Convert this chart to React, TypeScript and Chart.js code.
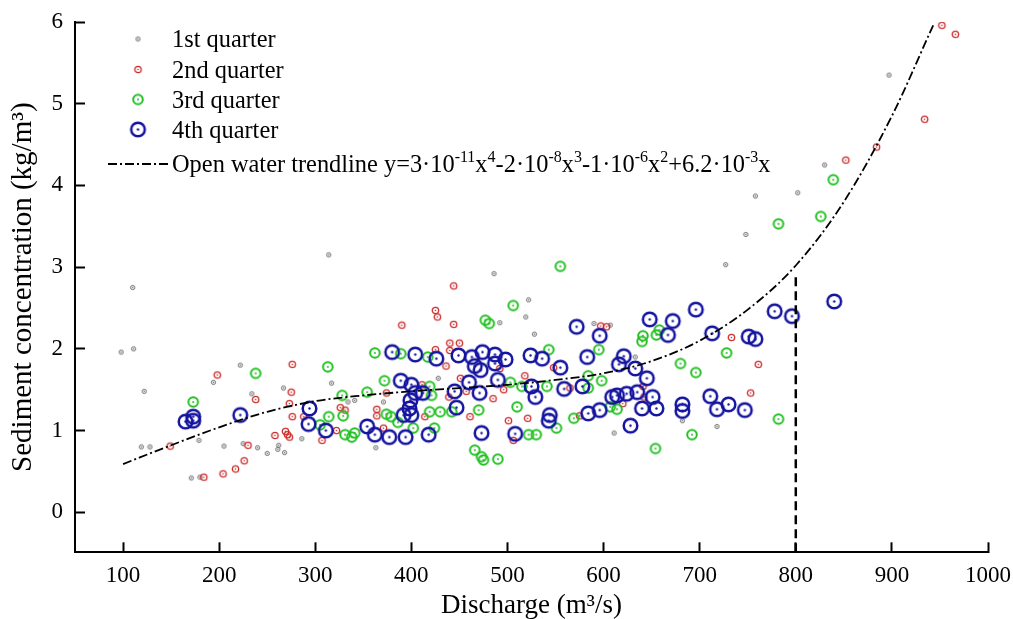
import React, { useEffect, useRef } from "react";
import { Chart, registerables } from "chart.js";

Chart.register(...registerables);

// ---------------- data ----------------
const X_TICKS = [100, 200, 300, 400, 500, 600, 700, 800, 900, 1000];
const Y_TICKS = [0, 1, 2, 3, 4, 5, 6];
const X_MIN = 50;
const X_MAX = 1000;
const Y_MIN = -0.49;
const Y_MAX = 6;

const SERIES_LABELS = ["1st quarter", "2nd quarter", "3rd quarter", "4th quarter"];

const Q1_X = [98, 111, 110, 122, 119, 128, 194, 222, 234, 179, 171, 180, 205, 225, 240, 250, 262, 261, 268, 267, 286, 317, 334, 341, 363, 314, 486, 522, 519, 492, 528, 590, 607, 428, 371, 611, 633, 727, 682, 718, 897, 830, 802, 758, 748];
const Q1_Y = [1.96, 2.0, 2.75, 1.48, 0.8, 0.8, 1.59, 1.8, 1.45, 0.88, 0.42, 0.43, 0.81, 0.84, 0.79, 0.72, 0.82, 0.77, 0.73, 1.52, 0.9, 1.58, 1.35, 1.37, 0.79, 3.15, 2.92, 2.6, 2.39, 2.32, 2.18, 2.31, 2.29, 1.64, 1.35, 0.97, 1.9, 3.03, 1.12, 1.05, 5.35, 4.25, 3.91, 3.87, 3.4];

const Q2_X = [198, 238, 149, 184, 204, 217, 226, 230, 258, 269, 271, 273, 276, 275, 273, 276, 288, 326, 331, 307, 322, 364, 364,
  444, 425, 427, 390, 444, 603, 597, 425, 440, 450, 440, 436, 451, 492, 518, 548, 496, 457, 485, 439, 461, 501, 521, 506, 371, 411, 414, 374, 575, 565, 620, 641, 642,
  733, 761, 753, 952, 966, 934, 884, 852];
const Q2_Y = [1.68, 1.38, 0.81, 0.43, 0.47, 0.53, 0.63, 0.82, 0.94, 0.99, 0.95, 0.92, 1.81, 1.47, 1.33, 1.17, 1.17, 1.28, 1.25, 0.88, 1.0, 1.26, 1.18,
  2.77, 2.47, 2.39, 2.29, 2.3, 2.27, 2.28, 1.99, 2.07, 2.07, 1.98, 1.79, 1.64, 1.76, 1.67, 1.77, 1.5, 1.48, 1.39, 1.41, 1.17, 1.12, 1.15, 0.88, 1.03, 1.56, 1.17, 1.46, 1.18, 1.52, 1.33, 1.54, 1.41,
  2.14, 1.81, 1.46, 5.96, 5.85, 4.81, 4.47, 4.31];

const Q3_X = [173, 238, 313, 328, 314, 329, 305, 331, 338, 341, 354, 362,
  555, 506, 477, 481, 641, 640, 655, 595, 543, 389, 417, 372, 419, 421, 374, 379, 386, 419, 430, 442, 402, 424, 470, 510, 503, 515, 541, 584, 584, 598, 569, 551, 522, 530, 466, 473, 475, 490, 654, 614,
  658, 728, 680, 696, 782, 692, 607, 839, 826, 782];
const Q3_Y = [1.35, 1.7, 1.78, 1.43, 1.17, 1.18, 1.07, 0.95, 0.92, 0.97, 1.47, 1.95,
  3.01, 2.53, 2.35, 2.31, 2.16, 2.09, 2.17, 1.99, 1.99, 1.94, 1.9, 1.61, 1.54, 1.43, 1.2, 1.17, 1.1, 1.23, 1.23, 1.23, 1.03, 1.03, 1.25, 1.29, 1.59, 1.54, 1.54, 1.67, 1.52, 1.61, 1.15, 1.03, 0.95, 0.95, 0.76, 0.68, 0.64, 0.65, 0.78, 1.26,
  2.23, 1.95, 1.82, 1.71, 1.14, 0.95, 1.29, 4.07, 3.62, 3.53];

const Q4_X = [165, 173, 173, 222, 294, 293, 311, 354, 362,
  380, 404, 426, 449, 463, 474, 487, 498, 466, 472, 487, 524, 536, 555, 583, 621, 616, 633, 645, 572, 596, 648, 667,
  389, 400, 404, 412, 399, 398, 392, 400, 377, 394, 418, 447, 445, 460, 471, 490, 525, 529, 559, 578, 473, 508, 544, 543, 584, 596, 609, 614, 624, 635, 651, 640, 655, 628,
  696, 778, 796, 840, 672, 713, 751, 758, 711, 718, 730, 747, 682, 682];
const Q4_Y = [1.11, 1.17, 1.12, 1.19, 1.27, 1.08, 1.0, 1.05, 0.95,
  1.96, 1.93, 1.88, 1.92, 1.9, 1.96, 1.93, 1.87, 1.79, 1.74, 1.82, 1.92, 1.88, 1.77, 1.9, 1.91, 1.81, 1.76, 1.64, 2.27, 2.16, 2.36, 2.17,
  1.61, 1.56, 1.46, 1.46, 1.37, 1.27, 1.19, 1.19, 0.92, 0.92, 0.95, 1.28, 1.48, 1.59, 1.46, 1.62, 1.54, 1.41, 1.51, 1.54, 0.97, 0.96, 1.19, 1.12, 1.21, 1.25, 1.41, 1.43, 1.45, 1.47, 1.41, 1.27, 1.27, 1.06,
  2.48, 2.46, 2.4, 2.58, 2.34, 2.19, 2.15, 2.12, 1.42, 1.26, 1.32, 1.25, 1.32, 1.24];

const TREND_X = [100, 150, 200, 250, 300, 350, 400, 450, 500, 550, 600, 650, 700, 750, 800, 850, 900, 943];
const TREND_Y = [0.59, 0.82, 1.04, 1.23, 1.36, 1.43, 1.48, 1.52, 1.56, 1.62, 1.7, 1.85, 2.1, 2.48, 3.02, 3.8, 4.85, 5.96];

const VLINE_X = [800, 800];
const VLINE_Y = [Y_MIN, 2.93];

const TREND_LABEL: [string, boolean][] = [
  ["Open water trendline y=3\u00b710", false], ["-11", true], ["x", false], ["4", true],
  ["-2\u00b710", false], ["-8", true], ["x", false], ["3", true],
  ["-1\u00b710", false], ["-6", true], ["x", false], ["2", true],
  ["+6.2\u00b710", false], ["-3", true], ["x", false],
];

// ---------------- styling ----------------
const FONT = '"Liberation Serif", "Times New Roman", serif';
Chart.defaults.font.family = FONT;

function makeMarker(r: number, lw: number, color: string, dot: number) {
  const size = Math.ceil(2 * (r + lw)) + 2;
  const c = document.createElement("canvas");
  c.width = size;
  c.height = size;
  const g = c.getContext("2d")!;
  const m = size / 2;
  g.beginPath();
  g.arc(m, m, r, 0, Math.PI * 2);
  g.lineWidth = lw;
  g.strokeStyle = color;
  g.stroke();
  g.beginPath();
  g.arc(m, m, dot, 0, Math.PI * 2);
  g.fillStyle = color;
  g.fill();
  return c;
}

const pts = (xs: number[], ys: number[]) => xs.map((x, i) => ({ x, y: ys[i] }));

export default function App() {
  const ref = useRef<HTMLCanvasElement>(null);

  useEffect(() => {
    document.body.style.margin = "0";
    const canvas = ref.current!;
    const markers = [
      makeMarker(2.1, 1.0, "#666666", 0.7),
      makeMarker(3.2, 1.3, "#cc2a2a", 0.8),
      makeMarker(4.8, 2.0, "#22c022", 1.0),
      makeMarker(6.8, 2.5, "#1414a0", 1.2),
    ];

    const legendPlugin = {
      id: "customLegend",
      afterDraw(chart: any) {
        const ctx = chart.ctx as CanvasRenderingContext2D;
        ctx.save();
        const baselines = [47, 77.5, 107.5, 137.5];
        const mx = 138;
        const tx = 172;
        ctx.font = `24.4px ${FONT}`;
        ctx.fillStyle = "#000";
        ctx.textBaseline = "alphabetic";
        ctx.textAlign = "left";
        SERIES_LABELS.forEach((lab, i) => {
          const m = markers[i];
          const cy = baselines[i] - 8;
          ctx.drawImage(m, mx - m.width / 2, cy - m.height / 2);
          ctx.fillText(lab, tx, baselines[i]);
        });
        const by = 172;
        const ly = 164;
        ctx.beginPath();
        ctx.setLineDash([9, 3, 2, 3]);
        ctx.lineWidth = 1.8;
        ctx.strokeStyle = "#000";
        ctx.moveTo(108, ly);
        ctx.lineTo(168, ly);
        ctx.stroke();
        ctx.setLineDash([]);
        let x = tx;
        TREND_LABEL.forEach(([t, sup]) => {
          if (sup) {
            ctx.font = `16px ${FONT}`;
            ctx.fillText(t, x, by - 10.5);
          } else {
            ctx.font = `24.4px ${FONT}`;
            ctx.fillText(t, x, by);
          }
          x += ctx.measureText(t).width;
        });
        ctx.restore();
      },
    };

    const chart = new Chart(canvas, {
      type: "scatter",
      data: {
        datasets: [
          {
            type: "line",
            label: "trend",
            data: pts(TREND_X, TREND_Y),
            borderColor: "#000",
            borderWidth: 1.8,
            borderDash: [9, 3, 2, 3],
            pointRadius: 0,
            fill: false,
            cubicInterpolationMode: "monotone",
            order: 0,
          } as any,
          {
            type: "line",
            label: "800",
            data: pts(VLINE_X, VLINE_Y),
            borderColor: "#000",
            borderWidth: 2.5,
            borderDash: [9, 5],
            pointRadius: 0,
            fill: false,
            order: 0,
          } as any,
          { label: SERIES_LABELS[3], data: pts(Q4_X, Q4_Y), pointStyle: markers[3] as any, pointRadius: 8, order: 1 },
          { label: SERIES_LABELS[2], data: pts(Q3_X, Q3_Y), pointStyle: markers[2] as any, pointRadius: 6, order: 2 },
          { label: SERIES_LABELS[1], data: pts(Q2_X, Q2_Y), pointStyle: markers[1] as any, pointRadius: 4, order: 3 },
          { label: SERIES_LABELS[0], data: pts(Q1_X, Q1_Y), pointStyle: markers[0] as any, pointRadius: 3, order: 4 },
        ],
      },
      options: {
        responsive: false,
        maintainAspectRatio: false,
        animation: false,
        layout: { padding: { left: 0, right: 25, top: 22, bottom: 0 } },
        plugins: { legend: { display: false }, tooltip: { enabled: false } },
        scales: {
          x: {
            type: "linear",
            position: "bottom",
            min: X_MIN,
            max: X_MAX,
            afterBuildTicks: (s: any) => {
              s.ticks = X_TICKS.map((v) => ({ value: v }));
            },
            afterFit: (s: any) => {
              s.height = 66.7;
              s.paddingLeft = 0;
              s.paddingRight = 0;
            },
            ticks: { font: { size: 23 }, color: "#000", padding: 20, maxRotation: 0, autoSkip: false, callback: (v: any) => String(v) },
            grid: { drawOnChartArea: false, tickLength: -10, tickWidth: 2, tickColor: "#000" },
            border: { color: "#000", width: 2 },
            title: { display: true, text: "Discharge (m\u00b3/s)", font: { size: 27, lineHeight: 1 }, color: "#000", padding: { top: 0, bottom: 0 } },
          },
          y: {
            type: "linear",
            position: "left",
            min: Y_MIN,
            max: Y_MAX,
            afterBuildTicks: (s: any) => {
              s.ticks = Y_TICKS.map((v) => ({ value: v }));
            },
            afterFit: (s: any) => {
              s.width = 75;
              s.paddingTop = 0;
              s.paddingBottom = 0;
            },
            ticks: { font: { size: 23 }, color: "#000", padding: 22, autoSkip: false, callback: (v: any) => String(v) },
            grid: { drawOnChartArea: false, tickLength: -10, tickWidth: 2, tickColor: "#000" },
            border: { color: "#000", width: 2 },
            title: { display: true, text: "Sediment concentration (kg/m\u00b3)", font: { size: 29, lineHeight: 1 }, color: "#000", padding: { top: 9, bottom: 0 } },
          },
        },
      },
      plugins: [legendPlugin],
    });
    return () => chart.destroy();
  }, []);

  return (
    <div style={{ width: 1013, height: 619, background: "#fff" }}>
      <canvas ref={ref} width={1013} height={619} style={{ display: "block" }} />
    </div>
  );
}
